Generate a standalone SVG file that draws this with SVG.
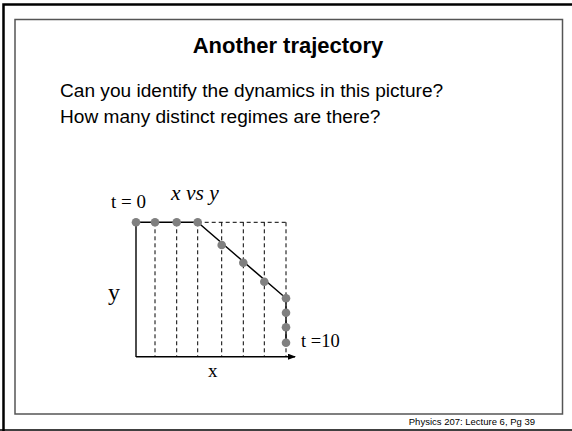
<svg xmlns="http://www.w3.org/2000/svg" width="572" height="431" viewBox="0 0 572 431">
<style>
.frame{fill:none;stroke:#000;stroke-width:2.5}
.box{fill:none;stroke:#555;stroke-width:1.5}
.sans{font-family:"Liberation Sans",Arial,sans-serif;fill:#000}
.serif{font-family:"Liberation Serif","Times New Roman",serif;fill:#000}
.dash{stroke:#000;stroke-width:1;stroke-dasharray:4,3;fill:none}
.solid{stroke:#000;stroke-width:1.4;fill:none}
.dot{fill:#808080}
</style>
<defs>
<marker id="arr" markerWidth="8" markerHeight="6" refX="7" refY="3" orient="auto" markerUnits="userSpaceOnUse">
<path d="M0,0 L8,3 L0,6 Z" fill="#000"/>
</marker>
</defs>
<rect width="572" height="431" fill="#fff"/>
<g id="frame">
<path class="frame" d="M3.5,431 V4.5 H572"/>
<line x1="0" y1="430" x2="572" y2="430" stroke="#000" stroke-width="1.5"/>
<rect class="box" x="15" y="19.5" width="547.5" height="394.5"/>
</g>
<text class="sans" x="288" y="53" font-size="22" font-weight="bold" text-anchor="middle">Another trajectory</text>
<text class="sans" x="60" y="97" font-size="19.1">Can you identify the dynamics in this picture?</text>
<text class="sans" x="60" y="123" font-size="19.1">How many distinct regimes are there?</text>
<g id="connectors">
<path class="dash" d="M197.7,222.3 H286"/>
<path class="dash" d="M155,222.3 V356.5 M176.7,222.3 V356.5 M197.7,222.3 V356.5 M221.7,222.3 V356.5 M243.3,222.3 V356.5 M264.3,222.3 V356.5 M286,222.3 V356.5"/>
<path class="solid" d="M136,357 V222.3"/>
<path class="solid" d="M136,356.7 H295" marker-end="url(#arr)"/>
<path class="solid" d="M136,222.3 H197.7 L286,298.3 V342.7"/>
</g>
<g id="points">
<circle class="dot" cx="136" cy="222.3" r="4.3"/>
<circle class="dot" cx="155" cy="222.3" r="4.3"/>
<circle class="dot" cx="176.7" cy="222.3" r="4.3"/>
<circle class="dot" cx="197.7" cy="222.3" r="4.3"/>
<circle class="dot" cx="221.7" cy="245" r="4.3"/>
<circle class="dot" cx="243.3" cy="262.7" r="4.3"/>
<circle class="dot" cx="264.3" cy="281.7" r="4.3"/>
<circle class="dot" cx="286" cy="298.3" r="4.3"/>
<circle class="dot" cx="286" cy="312.7" r="4.3"/>
<circle class="dot" cx="286" cy="327.3" r="4.3"/>
<circle class="dot" cx="286" cy="342.7" r="4.3"/>
</g>
<g id="labels">
<text class="serif" x="111" y="208" font-size="19">t = 0</text>
<text class="serif" x="171" y="200" font-size="21.5" font-style="italic">x vs y</text>
<text class="serif" x="108" y="300" font-size="24">y</text>
<text class="serif" x="208" y="377" font-size="19">x</text>
<text class="serif" x="301" y="347" font-size="18.5">t =10</text>
</g>
<text class="sans" x="535" y="425" font-size="9.5" text-anchor="end">Physics 207: Lecture 6, Pg 39</text>
</svg>
